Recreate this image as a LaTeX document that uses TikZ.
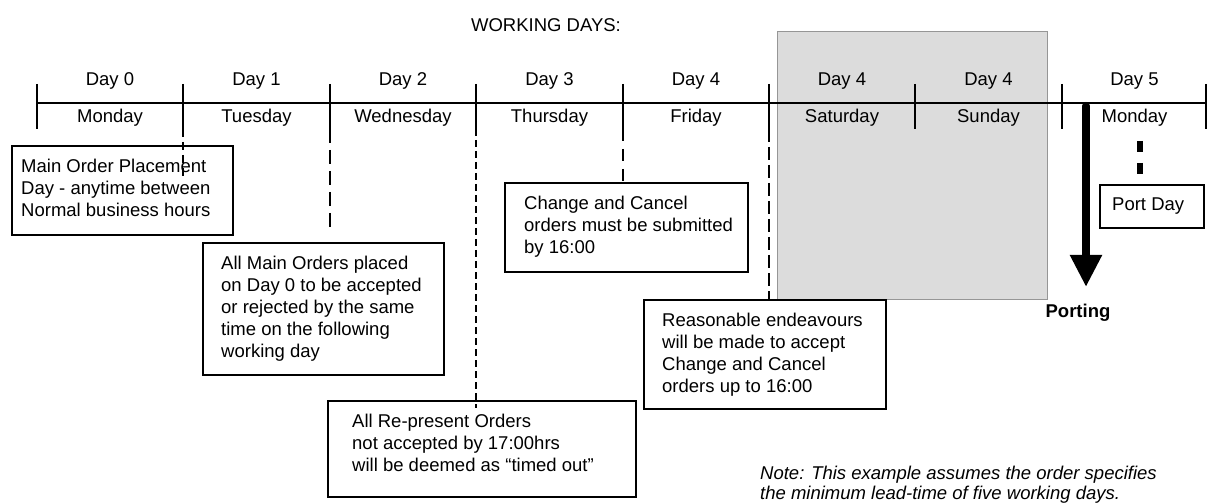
\documentclass[tikz,border=0pt]{standalone}
\usepackage{fontspec}
\setmainfont{Liberation Sans}
\usetikzlibrary{arrows.meta,calc}
\definecolor{greyfill}{RGB}{220,220,220}
\definecolor{greyedge}{RGB}{150,150,150}
\begin{document}
\begin{tikzpicture}[x=1bp,y=-1bp,
  every node/.style={font=\fontsize{18.5bp}{22bp}\selectfont, inner sep=0pt, text=black},
  boxst/.style={draw, line width=2.2bp, anchor=north west},
  txtst/.style={anchor=north west, align=left},
  tickst/.style={line width=2bp},
  dashst/.style={line width=2bp},
  notest/.style={anchor=north west, align=left, font=\fontsize{18.5bp}{20bp}\selectfont\itshape}
]
\useasboundingbox (0,0) rectangle (1207,503);
% weekend shading
\fill[greyfill, draw=greyedge, line width=0.8bp] (777,31) rectangle (1047,299);

% title
\node[anchor=base] (wd) at (546,32) {WORKING DAYS:};

% timeline
\coordinate (L0) at (37,103);
\coordinate (L1) at (1207,103);
\draw[line width=2.2bp] (L0) -- (L1);
\foreach \n/\x in {0/37,1/183,2/330,3/476,4/623,5/769,6/915,7/1062,8/1206}{
  \coordinate (t\n) at (\x,129);
  \draw[tickst] (\x,84) -- (t\n);
}

% day labels
\foreach \n/\x/\d/\w in {0/110/Day 0/Monday,1/256.5/Day 1/Tuesday,2/403/Day 2/Wednesday,
  3/549.5/Day 3/Thursday,4/696/Day 4/Friday,5/842/Day 4/Saturday,6/988.5/Day 4/Sunday,7/1134.5/Day 5/Monday}{
  \node[anchor=base] (day\n) at (\x,86) {\d};
  \node[anchor=base] (wk\n) at (\x,123) {\w};
}

% boxes
\node[boxst, minimum width=221bp, minimum height=89bp] (b1) at (11,145) {};
\node[txtst] (b1t) at ($(b1.north west)+(10,13.6)$) {Main Order Placement\\Day - anytime between\\Normal business hours};

\node[boxst, minimum width=241bp, minimum height=132bp] (b2) at (202,242) {};
\node[txtst] (b2t) at ($(b2.north west)+(19,13.6)$) {All Main Orders placed\\on Day 0 to be accepted\\or rejected by the same\\time on the following\\working day};

\node[boxst, minimum width=308bp, minimum height=96bp] (b3) at (327,400) {};
\node[txtst] (b3t) at ($(b3.north west)+(25,13.6)$) {All Re-present Orders\\not accepted by 17:00hrs\\will be deemed as “timed out”};

\node[boxst, minimum width=243bp, minimum height=89bp] (b4) at (504,182) {};
\node[txtst] (b4t) at ($(b4.north west)+(20,13.6)$) {Change and Cancel\\orders must be submitted\\by 16:00};

\node[boxst, minimum width=242bp, minimum height=109bp] (b5) at (643,299) {};
\node[txtst] (b5t) at ($(b5.north west)+(19,13.6)$) {Reasonable endeavours\\will be made to accept\\Change and Cancel\\orders up to 16:00};

\node[boxst, minimum width=104bp, minimum height=43bp] (b6) at (1099,184) {};
\node[txtst] (b6t) at ($(b6.north west)+(13,13.6)$) {Port Day};

% dashed connectors
\coordinate (e1) at (183,180);
\coordinate (e2) at (330,233);
\coordinate (e3) at (476,408);
\draw[dashst, dash pattern=on 8bp off 5bp] (t1) -- (e1);
\draw[dashst, dash pattern=on 14bp off 7bp] (t2) -- (e2);
\draw[dashst, dash pattern=on 7bp off 4bp] (t3) -- (e3);
\draw[dashst, dash pattern=on 12bp off 8bp] (t4) -- (t4 |- b4.north);
\draw[dashst, line width=2.6bp, dash pattern=on 13bp off 5bp] (t5) -- (t5 |- b5.north);

% port day marker
\coordinate (pd1) at (1140,141);
\coordinate (pd2) at (1140,174);
\draw[line width=6bp, dash pattern=on 11bp off 11bp] (pd1) -- (pd2);

% porting arrow
\coordinate (pa) at (1086,106);
\coordinate (pb) at (1086,287);
\draw[line width=8bp, line cap=round, -{Triangle[width=30bp,length=32bp]}] (pa) -- (pb);
\node[anchor=base, font=\fontsize{18.5bp}{22bp}\selectfont\bfseries] (port) at (1078,318) {Porting};

% note
\node[notest] (note) at (760,465.6) {Note: This example assumes the order specifies\\the minimum lead-time of five working days.};
\end{tikzpicture}
\end{document}
